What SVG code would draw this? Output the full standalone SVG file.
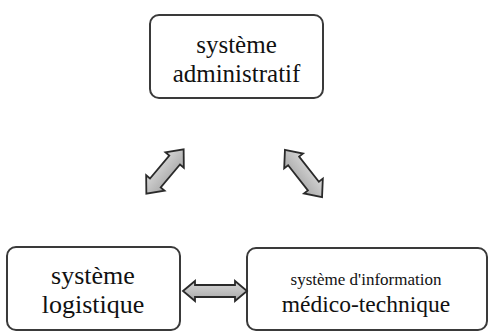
<svg xmlns="http://www.w3.org/2000/svg" width="490" height="333" viewBox="0 0 490 333">
<style>
.box{fill:#fff;stroke:#3a3a3a;stroke-width:2}
.t{font-family:"Liberation Serif","Times New Roman",serif;fill:#111;text-anchor:middle}
.arr{fill:url(#g);stroke:#2a2a2a;stroke-width:1.8;stroke-linejoin:miter}
</style>
<defs>
<linearGradient id="g" x1="0" y1="0" x2="0" y2="1">
<stop offset="0" stop-color="#d8d8d8"/>
<stop offset="1" stop-color="#a8a8a8"/>
</linearGradient>
</defs>
<rect width="490" height="333" fill="#fff"/>
<g id="admin">
<rect class="box" x="150" y="15" width="173" height="83" rx="9"/>
<text class="t" x="236.5" y="53" font-size="25">système</text>
<text class="t" x="236.5" y="82" font-size="25">administratif</text>
</g>
<g id="logistique">
<rect class="box" x="7" y="247" width="173" height="83" rx="9"/>
<text class="t" x="93" y="284" font-size="26">système</text>
<text class="t" x="93" y="313" font-size="26">logistique</text>
</g>
<g id="medico">
<rect class="box" x="247" y="248" width="240" height="82" rx="9"/>
<text class="t" x="366" y="285" font-size="17">système d'information</text>
<text class="t" x="366" y="312" font-size="23.5">médico-technique</text>
</g>
<g id="connectors">
<path class="arr" transform="translate(215,291)" d="M-32,0 L-20,-10 L-20,-6 L20,-6 L20,-10 L32,0 L20,10 L20,6 L-20,6 L-20,10 Z"/>
<path class="arr" transform="translate(165,171.5) rotate(-50)" d="M-29,0 L-15,-12 L-15,-7 L15,-7 L15,-12 L29,0 L15,12 L15,7 L-15,7 L-15,12 Z"/>
<path class="arr" transform="translate(303.5,173.5) rotate(51.8)" d="M-30,0 L-16,-12 L-16,-7 L16,-7 L16,-12 L30,0 L16,12 L16,7 L-16,7 L-16,12 Z"/>
</g>
</svg>
